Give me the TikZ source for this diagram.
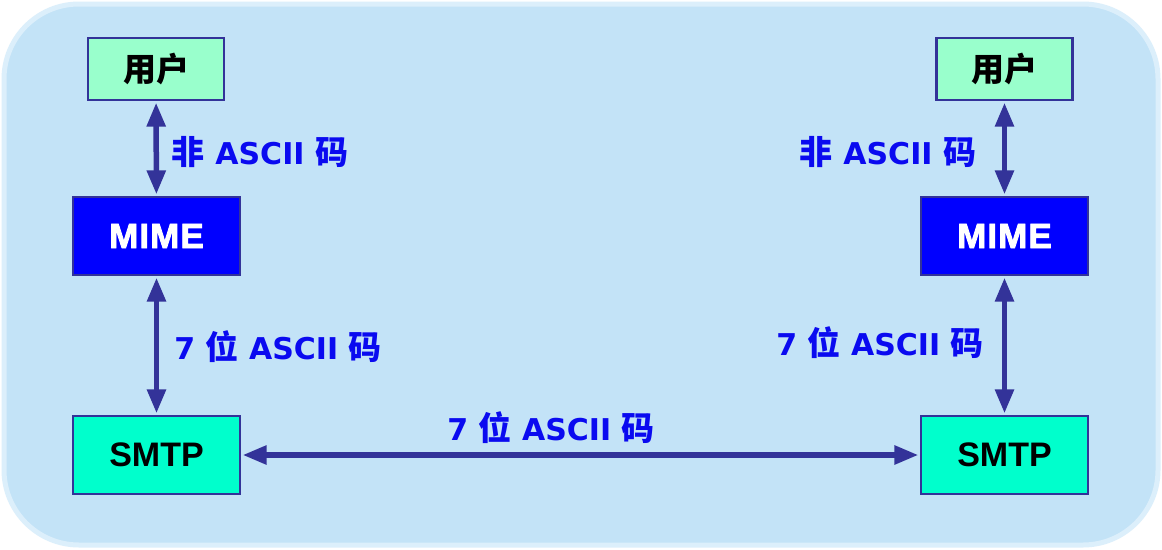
\documentclass[tikz,border=0pt]{standalone}
\usepackage{fontspec}
\setmainfont{DejaVu Sans}[BoldFont={DejaVu Sans Bold}]
\newfontfamily\arialfont{Liberation Sans}[BoldFont={Liberation Sans Bold}]
\newfontfamily\heavyfont{Liberation Sans}[BoldFont={Liberation Sans Bold}, BoldFeatures={FakeBold=2.5, LetterSpace=3}]
\newfontfamily\zhfont{Noto Sans CJK SC}[Scale=1.1]
\usetikzlibrary{arrows.meta}
\definecolor{bgblue}{HTML}{C3E3F7}
\definecolor{bgedge}{HTML}{DCEFFB}
\definecolor{userfill}{HTML}{99FFCC}
\definecolor{smtpfill}{HTML}{00FFCC}
\definecolor{mimefill}{HTML}{0000FF}
\definecolor{edgeblue}{HTML}{333399}
\definecolor{labelblue}{HTML}{0A0AF0}
\newcommand{\zh}[1]{{\zhfont\bfseries #1}}
\tikzset{
  boxbase/.style={draw=edgeblue, line width=2.2pt, inner sep=0pt, align=center},
  userbox/.style={boxbase, fill=userfill, minimum width=136pt, minimum height=62pt, font=\fontsize{30}{32}\selectfont},
  mimebox/.style={boxbase, fill=mimefill, minimum width=167pt, minimum height=78pt, text=white, font=\heavyfont\fontsize{35}{38}\selectfont\bfseries},
  smtpbox/.style={boxbase, fill=smtpfill, minimum width=167pt, minimum height=78pt, font=\arialfont\fontsize{34}{36}\selectfont\bfseries},
  lbl/.style={text=labelblue, inner sep=0pt, font=\fontsize{30}{32}\selectfont\bfseries},
  arr/.style={draw=edgeblue, line width=5.5pt, {Triangle[length=24pt,width=18pt]}-{Triangle[length=24pt,width=18pt]}, shorten <=1.5pt, shorten >=1.5pt}
}
\begin{document}
\begin{tikzpicture}[x=1pt,y=-1pt]
\useasboundingbox (0,0) rectangle (1162,549);
\fill[white] (0,0) rectangle (1162,549);
\draw[fill=bgblue, draw=bgedge, line width=5pt, rounded corners=75pt] (4,4) rectangle (1158,545);
\node[userbox] (u1) at (156,69) {\zh{用户}};
\node[mimebox] (m1) at (156.5,236) {MIME};
\node[smtpbox] (s1) at (156.5,455) {SMTP};
\node[userbox] (u2) at (1004.5,69) {\zh{用户}};
\node[mimebox] (m2) at (1004.5,236) {MIME};
\node[smtpbox] (s2) at (1004.5,455) {SMTP};
\draw[arr] (u1) -- (m1);
\draw[arr] (m1) -- (s1);
\draw[arr] (u2) -- (m2);
\draw[arr] (m2) -- (s2);
\draw[arr] (s1) -- (s2);
\node[lbl] (l1) at (260,152) {\zh{非} ASCII \zh{码}};
\node[lbl] (l2) at (888,152) {\zh{非} ASCII \zh{码}};
\node[lbl] (l3) at (278,347) {7 \zh{位} ASCII \zh{码}};
\node[lbl] (l4) at (880,343) {7 \zh{位} ASCII \zh{码}};
\node[lbl] (l5) at (551,428) {7 \zh{位} ASCII \zh{码}};
\end{tikzpicture}
\end{document}
